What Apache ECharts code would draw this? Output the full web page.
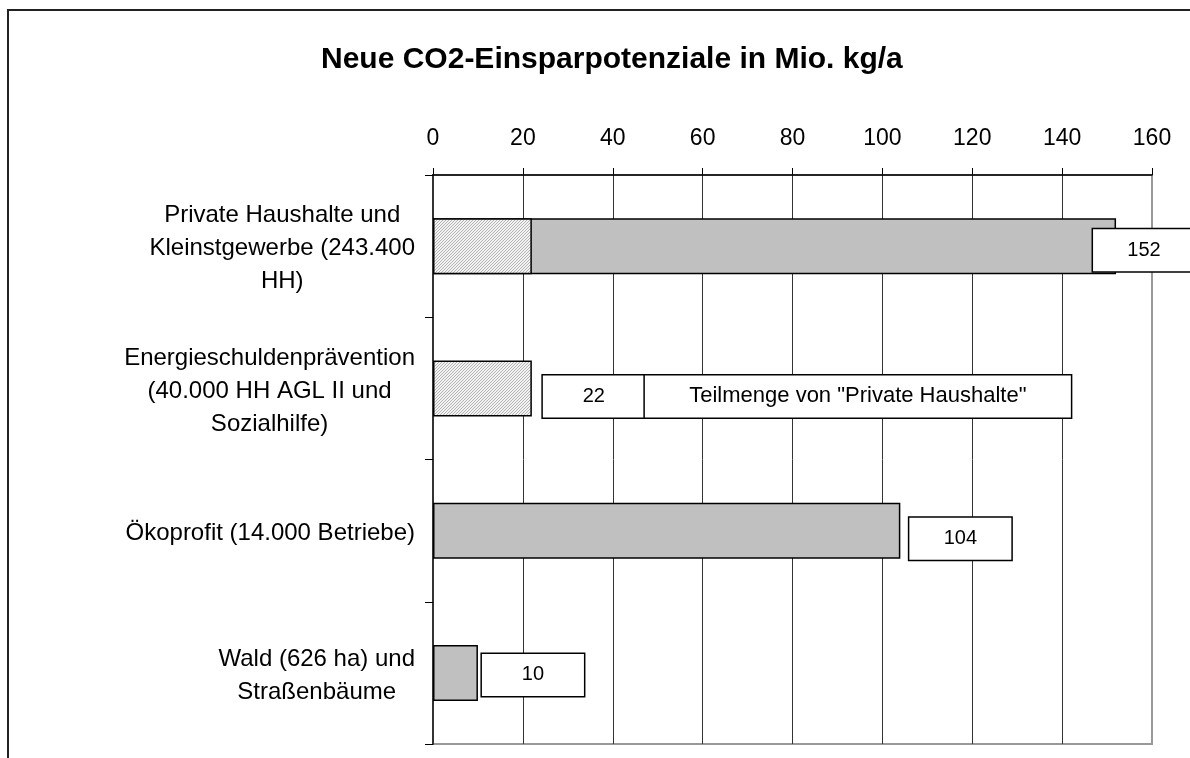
<!DOCTYPE html>
<html>
<head>
<meta charset="utf-8">
<title>Neue CO2-Einsparpotenziale</title>
<script src="https://cdn.jsdelivr.net/npm/echarts@6/dist/echarts.min.js"></script>
<style>
	html, body { margin: 0; padding: 0; background: #fff; }
	#chart { width: 1190px; height: 758px; }
</style>
</head>
<body>
<div id="chart"></div>
<script>
	//Daten
	var kategorien = [
		'Private Haushalte und\nKleinstgewerbe (243.400\nHH)',
		'Energieschuldenprävention\n(40.000 HH AGL II und\nSozialhilfe)',
		'Ökoprofit (14.000 Betriebe)',
		'Wald (626 ha) und\nStraßenbäume'
	];
	var gesamt = [152, null, 104, 10];
	var teilmenge = [22, 22, null, null];
	var hinweis = 'Teilmenge von "Private Haushalte"';
	var achseMin = 0, achseMax = 160, achseSchritt = 20;

	//Lage der Wertekästen (Versatz zum Balkenende)
	var versatz = [[-28, 4], [6, 8], [4, 8], [-1, 2]];

	var font = '"Liberation Sans", Arial, sans-serif';

	//Schraffur fuer die Teilmenge
	var hatch = document.createElement('canvas');
	hatch.width = 3;
	hatch.height = 3;
	var ctx = hatch.getContext('2d');
	ctx.fillStyle = '#f2f2f2';
	ctx.fillRect(0, 0, 3, 3);
	ctx.strokeStyle = '#b4b4b4';
	ctx.lineWidth = 1;
	ctx.beginPath();
	ctx.moveTo(-1, 4);
	ctx.lineTo(4, -1);
	ctx.stroke();

	var kasten = {
		width: 102,
		height: 42,
		lineHeight: 42,
		align: 'center',
		fontSize: 20,
		fontFamily: font,
		color: '#000',
		backgroundColor: '#fff',
		borderColor: '#000',
		borderWidth: 1.5
	};
	var kastenLang = Object.assign({}, kasten, { width: 426, fontSize: 22 });

	function wertLabel(i, text) {
		return {
			show: true,
			position: 'right',
			distance: 5,
			offset: versatz[i],
			formatter: text,
			rich: { a: kasten, b: kastenLang }
		};
	}

	var grauDaten = gesamt.map(function(v, i) {
		if(v == null) return null;
		return { value: v, label: wertLabel(i, '{a|' + v + '}') };
	});
	var teilDaten = teilmenge.map(function(v, i) {
		if(v == null) return null;
		// nur dort beschriften, wo kein Gesamtwert steht
		if(gesamt[i] != null) return { value: v };
		return { value: v, label: wertLabel(i, '{a|' + v + '}{b|' + hinweis + '}') };
	});

	var gitterFarben = [];
	for(var k = achseMin; k <= achseMax; k += achseSchritt) {
		gitterFarben.push(k == achseMax ? '#999' : '#333');
	}

	var myChart = echarts.init(document.getElementById('chart'));

	var option = {
		animation: false,
		textStyle: { fontFamily: font },
		title: {
			text: 'Neue CO2-Einsparpotenziale in Mio. kg/a',
			left: 316,
			top: 40,
			textStyle: {
				fontSize: 30,
				fontWeight: 'bold',
				fontFamily: font,
				color: '#000'
			}
		},
		graphic: [{
			type: 'rect',
			z: -10,
			shape: { x: 8, y: 10, width: 1400, height: 1000 },
			style: { fill: 'none', stroke: '#222', lineWidth: 2 }
		}],
		grid: {
			left: 433,
			right: 38,
			top: 175,
			bottom: 14,
			show: true,
			borderColor: '#999',
			borderWidth: 2
		},
		xAxis: {
			type: 'value',
			position: 'top',
			min: achseMin,
			max: achseMax,
			interval: achseSchritt,
			axisLine: { show: true, lineStyle: { color: '#000', width: 1.5 } },
			axisTick: { show: true, length: 7, lineStyle: { color: '#000', width: 1 } },
			axisLabel: { fontSize: 23, color: '#000', margin: 25, fontFamily: font },
			splitLine: { show: true, lineStyle: { color: gitterFarben, width: 1 } }
		},
		yAxis: {
			type: 'category',
			inverse: true,
			data: kategorien,
			axisLine: { show: true, lineStyle: { color: '#333', width: 2 } },
			axisTick: { show: true, length: 8, lineStyle: { color: '#000', width: 1 } },
			splitLine: { show: false },
			axisLabel: {
				margin: 18,
				align: 'right',
				padding: [5, 0, 0, 0],
				formatter: function(value) {
					return value.split('\n').map(function(z) {
						return '{c|' + z + '}';
					}).join('\n');
				},
				rich: {
					c: {
						align: 'center',
						fontSize: 24,
						lineHeight: 33,
						color: '#000',
						fontFamily: font
					}
				}
			}
		},
		series: [{
				name: 'Gesamt',
				type: 'bar',
				barWidth: 56,
				barGap: '-100%',
				data: grauDaten,
				itemStyle: {
					color: '#c0c0c0',
					borderColor: '#000',
					borderWidth: 1.5
				}
			},
			{
				name: 'Teilmenge',
				type: 'bar',
				barWidth: 56,
				barGap: '-100%',
				data: teilDaten,
				itemStyle: {
					color: { image: hatch, repeat: 'repeat' },
					borderColor: '#000',
					borderWidth: 1.5
				}
			}
		]
	};
	myChart.setOption(option);
</script>
</body>
</html>
